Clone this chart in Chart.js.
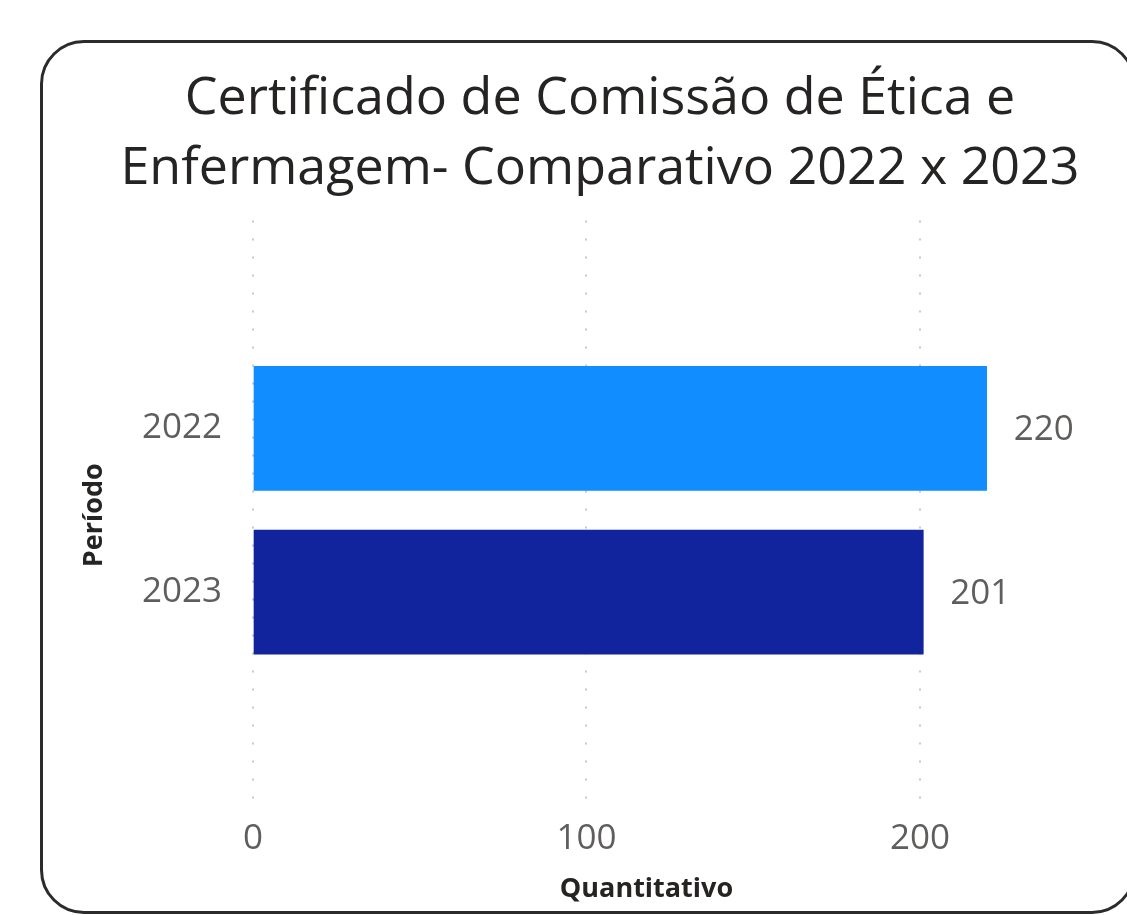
<!DOCTYPE html>
<html>
<head>
<meta charset="utf-8">
<script src="https://cdn.jsdelivr.net/npm/chart.js@4.4.1/dist/chart.umd.min.js"></script>
<style>
  html, body { margin: 0; padding: 0; background: #fff; overflow: hidden; }
  #card {
    position: absolute; left: 40px; top: 40px;
    width: 1096px; height: 874px;
    box-sizing: border-box;
    border: 3px solid #2b2b2b; border-radius: 44px;
  }
  #wrap { position: absolute; left: 0; top: 0; width: 1127px; height: 915px; }
</style>
</head>
<body>
<div id="card"></div>
<div id="wrap"><canvas id="chart"></canvas></div>
<script>
// ─── DATA ──────────────────────────────────────────────────
const periods = ['2022', '2023'];
const quantities = [220, 201];
const barColors = ['#118DFF', '#12239E'];
const xTicks = [0, 100, 200];

const titleLines = ['Certificado de Comissão de Ética e', 'Enfermagem- Comparativo 2022 x 2023'];

const FONT = "'Open Sans', sans-serif";
const GREY = '#605E5C';
const DARK = '#252423';

// ─── VALUE LABELS AT BAR END ───────────────────────────────
const valueLabels = {
  id: 'valueLabels',
  afterDatasetsDraw(chart) {
    const ctx = chart.ctx;
    const meta = chart.getDatasetMeta(0);
    ctx.save();
    ctx.font = `35px ${FONT}`;
    ctx.fillStyle = GREY;
    ctx.textAlign = 'left';
    ctx.textBaseline = 'middle';
    meta.data.forEach((bar, i) => {
      ctx.fillText(String(quantities[i]), bar.x + 27, bar.y + 2);
    });
    ctx.restore();
  }
};

const ctx = document.getElementById('chart').getContext('2d');
new Chart(ctx, {
  type: 'bar',
  data: {
    datasets: [{
      data: quantities.map((v, i) => ({ x: v, y: i })),
      backgroundColor: barColors,
      barThickness: 124,
      borderWidth: 0
    }]
  },
  options: {
    indexAxis: 'y',
    responsive: true,
    maintainAspectRatio: false,
    animation: false,
    layout: { padding: { left: 78, right: 5, top: 0, bottom: 9 } },
    plugins: {
      legend: { display: false },
      tooltip: { enabled: false },
      title: {
        display: true,
        text: titleLines,
        color: DARK,
        font: { family: FONT, size: 52, weight: 'normal', lineHeight: 1.35 },
        padding: { top: 64, bottom: 16 }
      }
    },
    scales: {
      x: {
        type: 'linear',
        min: 0,
        max: 236,
        afterBuildTicks: s => { s.ticks = xTicks.map(v => ({ value: v })); },
        afterFit: s => { s.height = 96; },
        ticks: { color: GREY, font: { family: FONT, size: 35 }, padding: 8 },
        grid: { color: '#c8c8c8', lineWidth: 2, drawTicks: false },
        border: { display: false, dash: [2, 16] },
        title: {
          display: true,
          text: 'Quantitativo',
          color: DARK,
          font: { family: FONT, size: 27, weight: 'bold', lineHeight: 1.2 },
          padding: 0
        }
      },
      y: {
        type: 'linear',
        reverse: true,
        offset: false,
        min: -1.27,
        max: 2.33,
        afterBuildTicks: s => { s.ticks = periods.map((_, i) => ({ value: i })); },
        afterFit: s => { s.width = 175; },
        ticks: {
          color: GREY,
          font: { family: FONT, size: 35 },
          padding: 31,
          callback: v => periods[v]
        },
        grid: { display: false, drawTicks: false },
        border: { display: false },
        title: {
          display: true,
          text: 'Período',
          color: DARK,
          font: { family: FONT, size: 27, weight: 'bold', lineHeight: 1.2 },
          padding: 0
        }
      },
      y2: {
        type: 'linear',
        position: 'right',
        display: true,
        afterFit: s => { s.width = 82; },
        ticks: { display: false },
        grid: { display: false, drawTicks: false },
        border: { display: false }
      }
    }
  },
  plugins: [valueLabels]
});
</script>
</body>
</html>
